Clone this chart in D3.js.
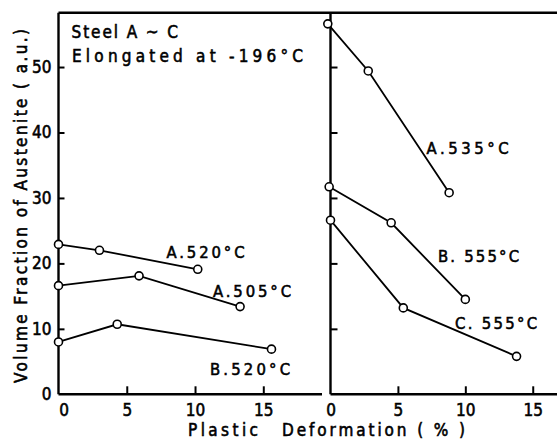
<!DOCTYPE html>
<html>
<head>
<meta charset="utf-8">
<script src="https://cdn.jsdelivr.net/npm/d3@7"></script>
<style>
  html, body { margin: 0; padding: 0; background: #fff; }
  svg { display: block; }
  text { font-family: "DejaVu Sans Condensed", "DejaVu Sans", sans-serif; font-stretch: condensed; fill: #000; stroke: #000; stroke-width: 0.55px; }
</style>
</head>
<body>
<svg id="chart" width="557" height="441"></svg>
<script>
// ---- data ----
const yTicks = [0, 10, 20, 30, 40, 50];
const xTicks = [0, 5, 10, 15];

// left panel series: [plastic deformation %, volume fraction]
const seriesA520 = [[0, 22.9], [3.0, 22.0], [10.2, 19.1]];
const seriesA505 = [[0, 16.6], [5.9, 18.1], [13.3, 13.4]];
const seriesB520 = [[0, 8.0], [4.3, 10.7], [15.6, 6.9]];
// right panel series
const seriesA535 = [[-0.2, 56.6], [2.8, 49.4], [8.8, 30.8]];
const seriesB555 = [[-0.1, 31.7], [4.5, 26.2], [10.0, 14.5]];
const seriesC555 = [[0, 26.6], [5.4, 13.2], [13.8, 5.8]];

const leftSeries = [
  { name: "A.520°C", data: seriesA520 },
  { name: "A.505°C", data: seriesA505 },
  { name: "B.520°C", data: seriesB520 }
];
const rightSeries = [
  { name: "A.535°C", data: seriesA535 },
  { name: "B. 555°C", data: seriesB555 },
  { name: "C. 555°C", data: seriesC555 }
];

// ---- layout ----
const svg = d3.select("#chart");
const yTop = 12.7, yBottom = 394.3;
const y = d3.scaleLinear().domain([0, 58.3]).range([yBottom, yTop]);
const xL = d3.scaleLinear().domain([0, 19.3]).range([58.5, 322]);
const xR = d3.scaleLinear().domain([0, 16.8]).range([330.5, 557]);

const axisColor = "#000";

// top border
svg.append("line")
  .attr("x1", xL(0)).attr("x2", 557)
  .attr("y1", yTop).attr("y2", yTop)
  .attr("stroke", axisColor).attr("stroke-width", 2.4);

// left y axis with labels
const gyL = svg.append("g").attr("transform", `translate(${xL(0)},0)`)
  .call(d3.axisLeft(y).tickValues(yTicks.filter(d => d > 0)).tickSizeInner(-6).tickSizeOuter(0).tickPadding(7).tickFormat(d3.format("d")));
gyL.append("text").attr("x", -7).attr("y", y(0)).attr("dy", "0.32em").attr("text-anchor", "end").text("0");

// right y axis (ticks only)
const gyR = svg.append("g").attr("transform", `translate(${xR(0)},0)`)
  .call(d3.axisLeft(y).tickValues(yTicks.filter(d => d > 0)).tickSizeInner(-7).tickSizeOuter(0).tickFormat(""));

// bottom axes
const gxL = svg.append("g").attr("transform", `translate(0,${yBottom})`)
  .call(d3.axisBottom(xL).tickValues(xTicks).tickSizeInner(-8).tickSizeOuter(0).tickPadding(10).tickFormat(d3.format("d")));
const gxR = svg.append("g").attr("transform", `translate(0,${yBottom})`)
  .call(d3.axisBottom(xR).tickValues(xTicks).tickSizeInner(-8).tickSizeOuter(0).tickPadding(10).tickFormat(d3.format("d")));

// left panel "0" label sits slightly right of the axis in the original
gxL.selectAll(".tick").filter(d => d === 0).select("text").attr("dx", 5);
gxL.selectAll(".tick").filter(d => d === 0).select("line").remove();
gxR.selectAll(".tick").filter(d => d === 0).select("line").remove();

[gyL, gyR, gxL, gxR].forEach(g => {
  g.select(".domain").attr("stroke", axisColor).attr("stroke-width", 2.4);
  g.selectAll(".tick line").attr("stroke", axisColor).attr("stroke-width", 2);
  g.selectAll("text").attr("font-size", 17).attr("fill", "#000")
    .style("font-family", '"DejaVu Sans Condensed", "DejaVu Sans", sans-serif');
});
gyL.select(".domain").attr("d", `M0,${yTop}V${yBottom}`);
gyR.select(".domain").attr("d", `M0,${yTop}V${yBottom}`);
gxL.select(".domain").attr("d", `M${xL(0)},0H322`);
gxR.select(".domain").attr("d", `M${xR(0)},0H557`);

// ---- series ----
function drawSeries(list, x) {
  const line = d3.line().x(d => x(d[0])).y(d => y(d[1]));
  list.forEach(s => {
    svg.append("path").datum(s.data)
      .attr("d", line).attr("fill", "none")
      .attr("stroke", "#000").attr("stroke-width", 1.8);
    svg.append("g").selectAll("circle").data(s.data).join("circle")
      .attr("cx", d => x(d[0])).attr("cy", d => y(d[1])).attr("r", 4)
      .attr("fill", "#fff").attr("stroke", "#000").attr("stroke-width", 1.6);
  });
}
drawSeries(leftSeries, xL);
drawSeries(rightSeries, xR);

// ---- text labels ----
const labels = [
  { t: "A.520°C", x: 166.5, y: 258, w: 78, fs: 16.5 },
  { t: "A.505°C", x: 213, y: 297, w: 78, fs: 16.5 },
  { t: "B.520°C", x: 210, y: 375, w: 80, fs: 16.5 },
  { t: "A.535°C", x: 426.5, y: 153.5, w: 82, fs: 16.5 },
  { t: "B. 555°C", x: 438, y: 261.5, w: 81, fs: 16.5 },
  { t: "C. 555°C", x: 455, y: 328.5, w: 82, fs: 16.5 },
  { t: "Steel A ~ C", x: 71.5, y: 37.7, w: 106.5, fs: 17 },
  { t: "Elongated  at  -196°C", x: 72, y: 61.7, w: 231, fs: 17 },
  { t: "Plastic", x: 188, y: 436, w: 70, fs: 17 },
  { t: "Deformation  ( % )", x: 282, y: 436, w: 183, fs: 17 }
];
labels.forEach(l => {
  svg.append("text").attr("x", l.x).attr("y", l.y)
    .attr("font-size", l.fs)
    .attr("textLength", l.w).attr("lengthAdjust", "spacing")
    .text(l.t);
});

// y axis title
svg.append("text")
  .attr("transform", "translate(27,383) rotate(-90)")
  .attr("font-size", 17)
  .attr("textLength", 354).attr("lengthAdjust", "spacing")
  .text("Volume Fraction of Austenite ( a.u.)");
</script>
</body>
</html>
